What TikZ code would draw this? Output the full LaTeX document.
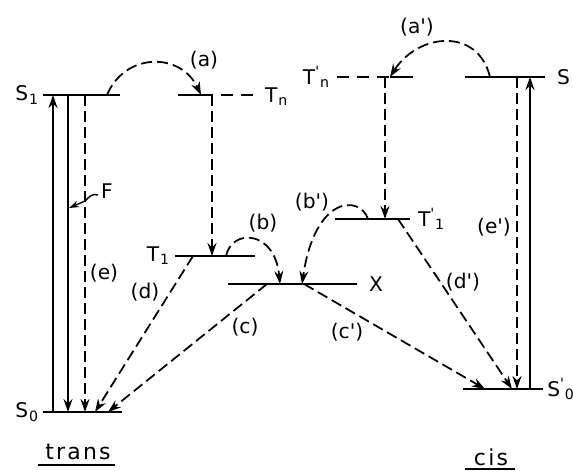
\documentclass[tikz,border=0pt]{standalone}
\usepackage{fontspec}
\setmainfont{DejaVu Sans}
\newfontfamily\spaced[LetterSpace=10]{DejaVu Sans}
\usepackage{tikz}
\usetikzlibrary{arrows.meta, calc}
\newcommand{\lvl}[3]{#1\textsuperscript{#3}\textsubscript{#2}}
\newcommand{\pr}{\textquotesingle}

\begin{document}
\begin{tikzpicture}[
    x=0.2mm, y=-0.2mm,
    level/.style={line width=1.1pt},
    gap/.style={dash pattern=on 2.4mm off 1.6mm},
    jump/.style={line width=1pt, dash pattern=on 2.2mm off 1mm, -{Stealth[length=2.6mm, width=1.8mm]}},
    emit/.style={line width=1pt, -{Stealth[length=2.6mm, width=1.8mm]}},
    lbl/.style={font=\fontsize{11.5}{13}\selectfont, inner sep=1pt},
]
    \useasboundingbox (0,0) rectangle (573,471);

    % trans levels
    \coordinate (S1l) at (43,95);   \coordinate (S1r) at (120,95);
    \coordinate (S0l) at (43,412);  \coordinate (S0r) at (122,412);
    \coordinate (Tnl) at (178,95);  \coordinate (Tnm) at (201,95);  \coordinate (Tnr) at (257,95);
    \coordinate (T1l) at (175,256); \coordinate (T1r) at (255,256);
    \coordinate (Xl) at (228,284);  \coordinate (Xr) at (357,284);
    % cis levels
    \coordinate (Tpnl) at (337,77); \coordinate (Tpnm) at (390,77); \coordinate (Tpnr) at (413,77);
    \coordinate (Spl) at (465,77);  \coordinate (Spr) at (545,77);
    \coordinate (Tp1l) at (335,219); \coordinate (Tp1r) at (410,219);
    \coordinate (Sp0l) at (463,389); \coordinate (Sp0r) at (543,389);

    \draw[level] (S1l) -- (S1r);
    \draw[level] (S0l) -- (S0r);
    \draw[level] (Tnl) -- (Tnm);
    \draw[level, gap] (Tnm) -- (Tnr);
    \draw[level] (T1l) -- (T1r);
    \draw[level] (Xl) -- (Xr);
    \draw[level, gap] (Tpnl) -- (Tpnm);
    \draw[level] (Tpnm) -- (Tpnr);
    \draw[level] (Spl) -- (Spr);
    \draw[level] (Tp1l) -- (Tp1r);
    \draw[level] (Sp0l) -- (Sp0r);

    \node[lbl, anchor=east] (lS1) at ($(S1l)+(-2,0)$) {\lvl{S}{1}{}};
    \node[lbl, anchor=east] (lS0) at ($(S0l)+(-2,0)$) {\lvl{S}{0}{}};
    \node[lbl, anchor=west] (lTn) at ($(Tnr)+(6,2)$) {\lvl{T}{n}{}};
    \node[lbl, anchor=east] (lT1) at ($(T1l)+(-3,0)$) {\lvl{T}{1}{}};
    \node[lbl, anchor=west] (lX) at ($(Xr)+(10,0)$) {X};
    \node[lbl, anchor=east] (lTpn) at ($(Tpnl)+(-5,0)$) {\lvl{T}{n}{\pr}};
    \node[lbl, anchor=west] (lSp) at ($(Spr)+(10,0)$) {S};
    \node[lbl, anchor=west] (lTp1) at ($(Tp1r)+(6,0)$) {\lvl{T}{1}{\pr}};
    \node[lbl, anchor=west, inner sep=0pt] (lSp0) at ($(Sp0r)+(4,0)$) {\lvl{S}{0}{\pr}};

    % absorption, fluorescence, (e)
    \draw[emit] ($(S0l)+(10,0)$) -- ($(S1l)+(10,0)$);
    \draw[emit] ($(S1l)+(25,0)$) -- ($(S0l)+(25,0)$);
    \draw[jump] ($(S1l)+(42,0)$) -- ($(S0l)+(42,0)$);
    \draw[emit] ($(Sp0l)+(67,0)$) -- ($(Spl)+(65,0)$);
    \draw[jump] ($(Spl)+(52,0)$) -- ($(Sp0l)+(54,0)$);

    % intersystem crossing
    \draw[jump] ($(S1l)+(64,0)$) .. controls +(18,-43) and +(-20,-43) .. (Tnm);
    \draw[jump] ($(Spl)+(25,0)$) .. controls +(-12,-50) and +(28,-44) .. (Tpnm);
    \draw[jump] ($(Tnl)+(34,0)$) -- ($(T1l)+(37,0)$);
    \draw[jump] ($(Tpnl)+(48,0)$) -- ($(Tp1l)+(50,0)$);

    % to X
    \draw[jump] ($(T1l)+(51,0)$) .. controls +(6,-28) and +(-5,-54) .. ($(Xl)+(52,0)$);
    \draw[jump] ($(Tp1l)+(33,0)$) .. controls +(-8,-24) and +(13,-89) .. ($(Xl)+(74,0)$);

    % decay to ground
    \draw[jump] ($(T1l)+(18,0)$) -- ($(S0l)+(52,0)$);
    \draw[jump] ($(Xl)+(39,0)$) -- ($(S0l)+(65,0)$);
    \draw[jump] ($(Xl)+(76,0)$) -- ($(Sp0l)+(22,0)$);
    \draw[jump] ($(Tp1l)+(63,0)$) -- ($(Sp0l)+(49,0)$);

    \node[lbl] (la) at (204,60) {(a)};
    \node[lbl] (lap) at (417,27) {(a\pr)};
    \node[lbl] (lb) at (263,223) {(b)};
    \node[lbl] (lbp) at (312,202) {(b\pr)};
    \node[lbl] (lc) at (245,327) {(c)};
    \node[lbl] (lcp) at (347,332) {(c\pr)};
    \node[lbl] (ld) at (145,292) {(d)};
    \node[lbl] (ldp) at (463,282) {(d\pr)};
    \node[lbl] (le) at (104,273) {(e)};
    \node[lbl] (lep) at (494,227) {(e\pr)};
    \node[lbl] (F) at (107,191) {F};
    \draw[line width=0.8pt, -{Stealth[length=2mm, width=1.3mm]}]
        ($(F.west)+(-1,4)$) .. controls +(-6,-2) and +(4,-4) .. ($(F.west)+(-14,10)$) -- ($(S1l)+(26,113)$);

    \node[font=\fontsize{12.5}{14}\spaced] (trans) at (78,452) {trans};
    \draw[line width=1.1pt] ($(trans)+(-40,13)$) -- ($(trans)+(37,13)$);
    \node[font=\fontsize{12.5}{14}\spaced] (cis) at (491,457) {cis};
    \draw[line width=1.1pt] ($(cis)+(-26,12)$) -- ($(cis)+(24,12)$);
\end{tikzpicture}
\end{document}
